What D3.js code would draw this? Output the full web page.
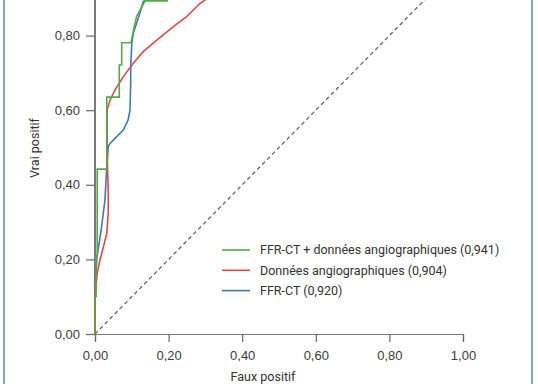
<!DOCTYPE html>
<html>
<head>
<meta charset="utf-8">
<script src="https://cdn.jsdelivr.net/npm/d3@7"></script>
<style>
  html, body { margin: 0; padding: 0; background: #fff; }
  svg { display: block; font-family: Roboto, "Noto Sans", sans-serif; }
</style>
</head>
<body>
<svg id="chart" width="538" height="384"></svg>
<script>
'use strict';

// ROC points [faux positif, vrai positif]
const combined = [
  [0, 0], [0, 0.10], [0.003, 0.10], [0.003, 0.21], [0.006, 0.21], [0.006, 0.442],
  [0.032, 0.442], [0.032, 0.635], [0.066, 0.635], [0.066, 0.721], [0.0725, 0.721],
  [0.0725, 0.781], [0.098, 0.781], [0.104, 0.812], [0.113, 0.851], [0.136, 0.893],
  [0.196, 0.893], [0.196, 0.93], [0.25, 0.93], [0.25, 0.97], [0.4, 0.97], [0.4, 1], [1, 1]
];
const angio = [
  [0, 0], [0, 0.10], [0.006, 0.163], [0.014, 0.201], [0.023, 0.234], [0.032, 0.27],
  [0.036, 0.324], [0.036, 0.377], [0.034, 0.45], [0.033, 0.52], [0.033, 0.601],
  [0.041, 0.627], [0.054, 0.654], [0.077, 0.69], [0.104, 0.726], [0.131, 0.757],
  [0.168, 0.788], [0.213, 0.824], [0.249, 0.851], [0.285, 0.886], [0.32, 0.91],
  [0.4, 0.94], [0.6, 0.98], [1, 1]
];
const ffrct = [
  [0, 0], [0, 0.10], [0.005, 0.203], [0.018, 0.288], [0.027, 0.359], [0.032, 0.449],
  [0.036, 0.502], [0.041, 0.511], [0.059, 0.529], [0.077, 0.547], [0.09, 0.574],
  [0.095, 0.6], [0.097, 0.672], [0.097, 0.717], [0.1, 0.779], [0.104, 0.806],
  [0.113, 0.833], [0.122, 0.86], [0.131, 0.891], [0.15, 0.91], [0.2, 0.93],
  [0.3, 0.96], [0.5, 0.99], [1, 1]
];

const series = [
  { name: 'FFR-CT + données angiographiques (0,941)', color: '#58a848', values: combined },
  { name: 'Données angiographiques (0,904)', color: '#e2484a', values: angio },
  { name: 'FFR-CT (0,920)', color: '#3b7db3', values: ffrct },
];

const xTicks = [0, 0.2, 0.4, 0.6, 0.8, 1];
const yTicks = [0, 0.2, 0.4, 0.6, 0.8];

const svg = d3.select('#chart');

const x = d3.scaleLinear().domain([0, 1]).range([95, 463]);
const y = d3.scaleLinear().domain([0, 1]).range([334, -39]);

const fmt = d3.formatLocale({ decimal: ',', thousands: ' ', grouping: [3], currency: ['', '€'] }).format('.2f');

// blue frame
svg.append('line').attr('x1', 4).attr('x2', 4).attr('y1', 0).attr('y2', 384)
  .attr('stroke', '#78abca').attr('stroke-width', 2);
svg.append('line').attr('x1', 532).attr('x2', 532).attr('y1', 0).attr('y2', 384)
  .attr('stroke', '#78abca').attr('stroke-width', 2);

// axes
const xAxis = svg.append('g')
  .attr('transform', `translate(0, ${y(0)})`)
  .call(d3.axisBottom(x).tickValues(xTicks).tickFormat(fmt).tickSize(8).tickPadding(9));
xAxis.select('.domain').attr('stroke', '#777').attr('stroke-width', 1.2);

const yAxis = svg.append('g')
  .attr('transform', `translate(${x(0)}, 0)`)
  .call(d3.axisLeft(y).tickValues(yTicks).tickFormat(fmt).tickSize(9).tickPadding(6));
yAxis.select('.domain')
  .attr('d', `M0,${y(0)}V${y(1)}`)
  .attr('stroke', '#222').attr('stroke-width', 1.2);

svg.selectAll('.tick line').attr('stroke', '#666').attr('stroke-width', 1.2);
svg.selectAll('.tick text').attr('fill', '#3c3c3c').style('font-size', '13px');

// diagonal
svg.append('line')
  .attr('x1', x(0)).attr('y1', y(0)).attr('x2', x(1)).attr('y2', y(1))
  .attr('stroke', '#666').attr('stroke-width', 1.3).attr('stroke-dasharray', '4,3');

const line = d3.line().x(d => x(d[0])).y(d => y(d[1]));

svg.selectAll('.roc')
  .data(series.slice().reverse())
  .enter()
  .append('path')
  .attr('class', 'roc')
  .attr('d', d => line(d.values))
  .attr('fill', 'none')
  .attr('stroke', d => d.color)
  .attr('stroke-width', 1.6);

// legend
const legend = svg.selectAll('.legend')
  .data(series)
  .enter()
  .append('g')
  .attr('class', 'legend')
  .attr('transform', (d, i) => `translate(222, ${250 + i * 20.3})`);

legend.append('line')
  .attr('x1', 0).attr('x2', 28)
  .attr('stroke', d => d.color).attr('stroke-width', 1.6);

legend.append('text')
  .attr('x', 38).attr('dy', '0.35em')
  .attr('fill', '#333').style('font-size', '12.5px')
  .text(d => d.name);

// axis titles
svg.append('text')
  .attr('x', 263).attr('y', 381)
  .attr('text-anchor', 'middle').attr('fill', '#333').style('font-size', '12.5px')
  .text('Faux positif');

svg.append('text')
  .attr('transform', 'translate(39, 148) rotate(-90)')
  .attr('text-anchor', 'middle').attr('fill', '#333').style('font-size', '12.5px')
  .text('Vrai positif');
</script>
</body>
</html>
